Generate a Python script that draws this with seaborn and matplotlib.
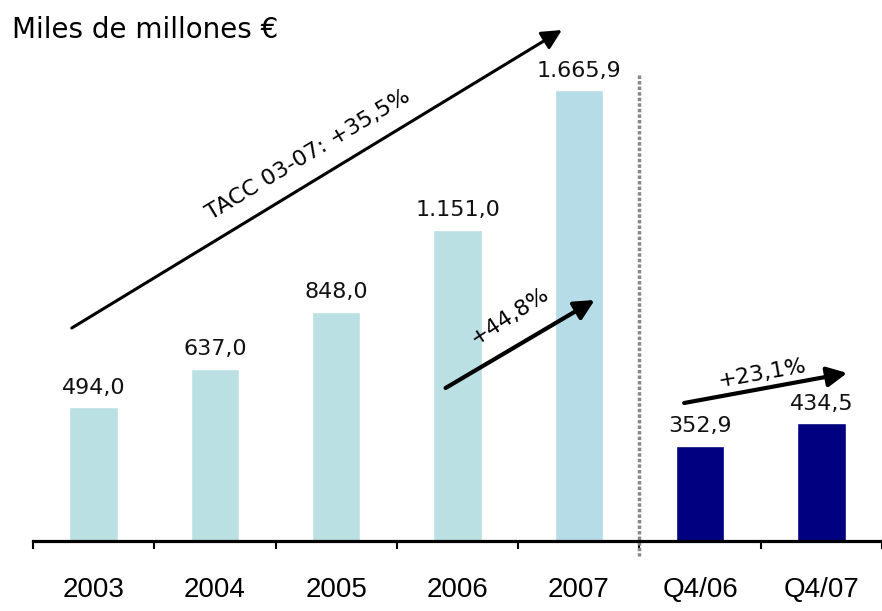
import matplotlib
matplotlib.use("Agg")
import matplotlib.pyplot as plt
import seaborn as sns
import pandas as pd

categories = ["2003", "2004", "2005", "2006", "2007", "Q4/06", "Q4/07"]
values = [494.0, 637.0, 848.0, 1151.0, 1665.9, 352.9, 434.5]
value_labels = ["494,0", "637,0", "848,0", "1.151,0", "1.665,9", "352,9", "434,5"]
bar_colors = ["#BBE0E3", "#BBE0E3", "#BBE0E3", "#BBE0E3", "#B6DCE7", "#000080", "#000080"]
title = "Miles de millones €"
growth_texts = ["TACC 03-07: +35,5%", "+44,8%", "+23,1%"]

sns.set_theme(style="white")
plt.rcParams["font.family"] = ["DejaVu Sans"]
plt.rcParams["text.color"] = "black"

W, H = 882, 611
fig = plt.figure(figsize=(W / 100, H / 100), dpi=100)
ax = fig.add_axes([33 / W, (H - 541) / H, 849 / W, 541 / H])

df = pd.DataFrame({"cat": categories, "val": values})
sns.barplot(data=df, x="cat", y="val", hue="cat", palette=bar_colors,
            legend=False, width=0.4, ax=ax, saturation=1)

ax.set_xlim(-0.5, -0.5 + 849 / 122)
ax.set_ylim(0, 2000)
ax.set_xlabel("")
ax.set_ylabel("")
ax.set_yticks([])
for s in ["left", "top", "right"]:
    ax.spines[s].set_visible(False)
ax.spines["bottom"].set_linewidth(2.3)
ax.spines["bottom"].set_color("black")

# ticks at category boundaries, labels centered on bars
ax.set_xticks([i - 0.5 for i in range(len(categories) + 1)], minor=False)
ax.set_xticklabels([""] * (len(categories) + 1))
ax.set_xticks(range(len(categories)), minor=True)
ax.set_xticklabels(categories, minor=True, fontsize=20, family="Liberation Sans")
ax.tick_params(axis="x", which="major", direction="out", length=6, width=1.5,
               color="black", bottom=True)
ax.tick_params(axis="x", which="minor", length=0, pad=26, labelcolor="black")

for i, (v, lab) in enumerate(zip(values, value_labels)):
    ax.annotate(lab, (i, v), xytext=(0, 7), textcoords="offset points",
                ha="center", va="bottom", fontsize=16, color="#111111")

def px(x):
    return (x - 33) / 122 - 0.5

def py(y):
    return (541 - y) / 541 * 2000

arrow_kw = dict(arrowstyle="-|>,head_length=1.0,head_width=0.5", color="black", lw=2.2,
                shrinkA=0, shrinkB=0)
ax.annotate("", xy=(px(565), py(30)), xytext=(px(72), py(328)),
            arrowprops=arrow_kw, annotation_clip=False)
ax.annotate("", xy=(px(598), py(300)), xytext=(px(448), py(388)),
            arrowprops=dict(arrow_kw, lw=3), annotation_clip=False)
ax.annotate("", xy=(px(852), py(373)), xytext=(px(688), py(403)),
            arrowprops=dict(arrow_kw, lw=3), annotation_clip=False)

ax.text(px(310), py(155), growth_texts[0], rotation=31, ha="center", va="center",
        fontsize=16, rotation_mode="anchor", color="black")
ax.text(px(513), py(316), growth_texts[1], rotation=33, ha="center", va="center",
        fontsize=16, rotation_mode="anchor", color="black")
ax.text(px(766), py(373), growth_texts[2], rotation=10, ha="center", va="center",
        fontsize=16, rotation_mode="anchor", color="black")

# separator
ax.plot([4.5, 4.5], [py(75), py(556)], color="#888888", lw=2.5,
        linestyle=(0, (1, 0.6)), clip_on=False)

fig.text(12 / W, 1 - 30 / H, title, ha="left", va="center", fontsize=20,
         color="black")

fig.savefig("out.png", dpi=100)
